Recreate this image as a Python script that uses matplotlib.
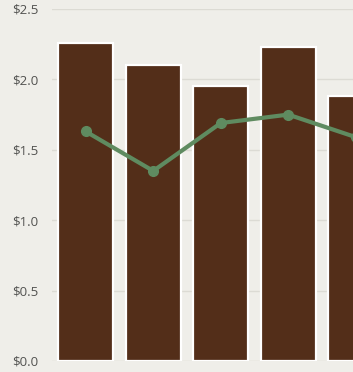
import matplotlib.pyplot as plt
from matplotlib.ticker import FuncFormatter

# -----------------------------------------------------------
# Data
# -----------------------------------------------------------
categories = ["A", "B", "C", "D", "E"]
bar_values = [2.26, 2.10, 1.95, 2.23, 1.88]
line_values = [1.63, 1.35, 1.69, 1.75, 1.59]
y_ticks = [0.0, 0.5, 1.0, 1.5, 2.0, 2.5]

# -----------------------------------------------------------
# Style
# -----------------------------------------------------------
bg = "#efeee9"
bar_color = "#532e19"
line_color = "#5f8b60"
grid_color = "#dcdbd4"
text_color = "#525250"

fig = plt.figure(figsize=(3.53, 3.72), dpi=100, facecolor=bg)
ax = fig.add_axes([52 / 353, 11 / 372, 1 - 52 / 353, 352 / 372])
ax.set_facecolor(bg)

x = list(range(len(categories)))
ax.bar(x, bar_values, width=0.82, color=bar_color, edgecolor="white",
       linewidth=1.6, zorder=2)
ax.plot(x, line_values, color=line_color, linewidth=3, marker="o",
        markersize=7, zorder=3, clip_on=True)

ax.set_xlim(-0.5, (353 - 52) / 67.5 - 0.5)
ax.set_ylim(0, 2.5)
ax.set_yticks(y_ticks)
ax.yaxis.set_major_formatter(FuncFormatter(lambda v, p: f"${v:.1f}"))
ax.set_xticks([])

ax.grid(axis="y", color=grid_color, linewidth=1, zorder=0)
for s in ax.spines.values():
    s.set_visible(False)
ax.tick_params(axis="y", length=0, pad=10, labelsize=9.5, labelcolor=text_color)
for lbl in ax.get_yticklabels():
    lbl.set_fontfamily("Open Sans")
    lbl.set_fontweight("medium")

fig.savefig("out.png", dpi=100, facecolor=bg)
